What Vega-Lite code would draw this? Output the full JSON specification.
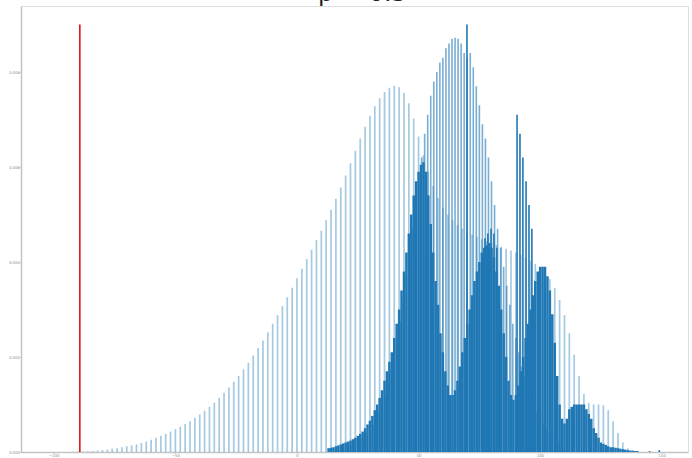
{
  "$schema": "https://vega.github.io/schema/vega-lite/v6.json",
  "width": 667,
  "height": 446,
  "autosize": "none",
  "padding": {"left": 21, "top": 6, "right": 4, "bottom": 6},
  "background": "white",
  "config": {
    "view": {"stroke": "#dddddd", "strokeWidth": 1},
    "axis": {"grid": false, "domainColor": "#c4c4c4", "domainWidth": 1.5, "tickColor": "#999999", "tickSize": 1, "labelFontSize": 3.8, "labelColor": "#888888", "labelFont": "DejaVu Sans", "labelPadding": 0.5}
  },
  "title": {"text": "p = 0.5", "fontSize": 24, "font": "DejaVu Sans", "fontWeight": "normal", "color": "#222222", "anchor": "middle", "offset": 0, "baseline": "alphabetic", "dy": 19, "dx": 8},
  "datasets": {
    "a": [
      {"x":-92,"y":0.000005},{"x":-90,"y":0.000008},{"x":-88,"y":0.00001},{"x":-86,"y":0.000015},
      {"x":-84,"y":0.00002},{"x":-82,"y":0.00003},{"x":-80,"y":0.00004},{"x":-78,"y":0.00005},{"x":-76,"y":0.00007},{"x":-74,"y":0.00008},{"x":-72,"y":0.0001},{"x":-70,"y":0.00012},{"x":-68,"y":0.00014},{"x":-66,"y":0.00016},{"x":-64,"y":0.00019},{"x":-62,"y":0.00022},{"x":-60,"y":0.00026},{"x":-58,"y":0.0003},{"x":-56,"y":0.00034},{"x":-54,"y":0.00038},{"x":-52,"y":0.00043},{"x":-50,"y":0.00048},{"x":-48,"y":0.00053},{"x":-46,"y":0.00059},{"x":-44,"y":0.00065},{"x":-42,"y":0.00072},{"x":-40,"y":0.00079},{"x":-38,"y":0.00087},{"x":-36,"y":0.00095},{"x":-34,"y":0.00104},{"x":-32,"y":0.00114},{"x":-30,"y":0.00125},{"x":-28,"y":0.00136},{"x":-26,"y":0.00148},{"x":-24,"y":0.0016},{"x":-22,"y":0.00174},{"x":-20,"y":0.00188},{"x":-18,"y":0.00203},{"x":-16,"y":0.00219},{"x":-14,"y":0.00235},{"x":-12,"y":0.00252},{"x":-10,"y":0.0027},{"x":-8,"y":0.00288},{"x":-6,"y":0.00307},{"x":-4,"y":0.00326},{"x":-2,"y":0.00346},{"x":0,"y":0.00366},{"x":2,"y":0.00386},{"x":4,"y":0.00406},{"x":6,"y":0.00426},{"x":8,"y":0.00446},{"x":10,"y":0.00466},{"x":12,"y":0.00488},{"x":14,"y":0.0051},{"x":16,"y":0.00533},{"x":18,"y":0.00557},{"x":20,"y":0.00582},{"x":22,"y":0.00608},{"x":24,"y":0.00634},{"x":26,"y":0.0066},{"x":28,"y":0.00685},{"x":30,"y":0.00708},{"x":32,"y":0.00728},{"x":34,"y":0.00745},{"x":36,"y":0.00758},{"x":38,"y":0.00767},{"x":40,"y":0.00771},{"x":42,"y":0.00768},{"x":44,"y":0.00756},{"x":46,"y":0.00734},{"x":48,"y":0.00702},{"x":50,"y":0.00664},{"x":52,"y":0.00625},{"x":54,"y":0.0059},{"x":56,"y":0.0056},{"x":58,"y":0.00535},{"x":60,"y":0.00515},{"x":62,"y":0.005},{"x":64,"y":0.00488},{"x":66,"y":0.00478},{"x":68,"y":0.0047},{"x":70,"y":0.00464},{"x":72,"y":0.00458},{"x":74,"y":0.00453},{"x":76,"y":0.00448},{"x":78,"y":0.00444},{"x":80,"y":0.0044},{"x":82,"y":0.00436},{"x":84,"y":0.00432},{"x":86,"y":0.00428},{"x":88,"y":0.00424},{"x":90,"y":0.0042},{"x":92,"y":0.00415},{"x":94,"y":0.0041},{"x":96,"y":0.00403},{"x":98,"y":0.00396},{"x":100,"y":0.00388},{"x":102,"y":0.00378},{"x":104,"y":0.00364},{"x":106,"y":0.00345},{"x":108,"y":0.0032},{"x":110,"y":0.00288},{"x":112,"y":0.0025},{"x":114,"y":0.00205},{"x":116,"y":0.0016},{"x":118,"y":0.00122},{"x":120,"y":0.00103},{"x":122,"y":0.001},{"x":124,"y":0.001},{"x":126,"y":0.00098},{"x":128,"y":0.00088},{"x":130,"y":0.00065},{"x":132,"y":0.0004},{"x":134,"y":0.0002},{"x":136,"y":0.00008}
    ],
    "b": [
      {"x":20,"y":0.0001},{"x":21.25,"y":0.00012},{"x":22.5,"y":0.00015},{"x":23.75,"y":0.00018},{"x":25,"y":0.00022},{"x":26.25,"y":0.00027},{"x":27.5,"y":0.00033},{"x":28.75,"y":0.0004},{"x":30,"y":0.00048},{"x":31.25,"y":0.00058},{"x":32.5,"y":0.0007},{"x":33.75,"y":0.00084},{"x":35,"y":0.001},{"x":36.25,"y":0.0012},{"x":37.5,"y":0.00143},{"x":38.75,"y":0.0017},{"x":40,"y":0.002},{"x":41.25,"y":0.00235},{"x":42.5,"y":0.00275},{"x":43.75,"y":0.0032},{"x":45,"y":0.0037},{"x":46.25,"y":0.0042},{"x":47.5,"y":0.0047},{"x":48.75,"y":0.0052},{"x":50,"y":0.0057},{"x":51.25,"y":0.0062},{"x":52.5,"y":0.0067},{"x":53.75,"y":0.0071},{"x":55,"y":0.0075},{"x":56.25,"y":0.0078},{"x":57.5,"y":0.008},{"x":58.75,"y":0.0082},{"x":60,"y":0.0083},{"x":61.25,"y":0.0085},{"x":62.5,"y":0.0086},{"x":63.75,"y":0.0087},{"x":65,"y":0.00872},{"x":66.25,"y":0.0087},{"x":67.5,"y":0.0086},{"x":68.75,"y":0.0084},{"x":70,"y":0.0083},{"x":71.25,"y":0.0084},{"x":72.5,"y":0.0081},{"x":73.75,"y":0.0077},{"x":75,"y":0.0073},{"x":76.25,"y":0.0069},{"x":77.5,"y":0.0066},{"x":78.75,"y":0.0062},{"x":80,"y":0.0057},{"x":81.25,"y":0.0052},{"x":82.5,"y":0.0047},{"x":83.75,"y":0.0043},{"x":85,"y":0.0039},{"x":86.25,"y":0.0035},{"x":87.5,"y":0.0031},{"x":88.75,"y":0.0027},{"x":90,"y":0.0024},{"x":91.25,"y":0.0021},{"x":92.5,"y":0.0018},{"x":93.75,"y":0.0016},{"x":95,"y":0.0014},{"x":96.25,"y":0.0012},{"x":97.5,"y":0.001},{"x":98.75,"y":0.00085},{"x":100,"y":0.0007},{"x":101.25,"y":0.00058},{"x":102.5,"y":0.00048},{"x":103.75,"y":0.0004},{"x":105,"y":0.00032},{"x":106.25,"y":0.00025},{"x":107.5,"y":0.0002},{"x":108.75,"y":0.00015},{"x":110,"y":0.0001}
    ],
    "c": [
      {"x":13,"y":0.00008},{"x":14,"y":0.00009},{"x":15,"y":0.0001},{"x":16,"y":0.00012},{"x":17,"y":0.00014},{"x":18,"y":0.00016},{"x":19,"y":0.00018},{"x":20,"y":0.0002},{"x":21,"y":0.00022},{"x":22,"y":0.00024},{"x":23,"y":0.00027},{"x":24,"y":0.0003},{"x":25,"y":0.00034},{"x":26,"y":0.00038},{"x":27,"y":0.00043},{"x":28,"y":0.0005},{"x":29,"y":0.00058},{"x":30,"y":0.00066},{"x":31,"y":0.00076},{"x":32,"y":0.00088},{"x":33,"y":0.001},{"x":34,"y":0.00114},{"x":35,"y":0.0013},{"x":36,"y":0.0015},{"x":37,"y":0.0017},{"x":38,"y":0.0019},{"x":39,"y":0.0021},{"x":40,"y":0.0024},{"x":41,"y":0.0027},{"x":42,"y":0.003},{"x":43,"y":0.0034},{"x":44,"y":0.0038},{"x":45,"y":0.0042},{"x":46,"y":0.0046},{"x":47,"y":0.005},{"x":48,"y":0.0054},{"x":49,"y":0.0057},{"x":50,"y":0.0059},{"x":51,"y":0.00605},{"x":52,"y":0.0061},{"x":53,"y":0.0059},{"x":54,"y":0.0054},{"x":55,"y":0.0048},{"x":56,"y":0.0042},{"x":57,"y":0.0036},{"x":58,"y":0.0031},{"x":59,"y":0.0025},{"x":60,"y":0.0021},{"x":61,"y":0.0017},{"x":62,"y":0.0014},{"x":63,"y":0.0012},{"x":64,"y":0.0012},{"x":65,"y":0.0013},{"x":66,"y":0.0015},{"x":67,"y":0.0018},{"x":68,"y":0.0021},{"x":69,"y":0.0024},{"x":70,"y":0.0027},{"x":71,"y":0.003},{"x":72,"y":0.0033},{"x":73,"y":0.0036},{"x":74,"y":0.0038},{"x":75,"y":0.004},{"x":76,"y":0.0042},{"x":77,"y":0.0043},{"x":78,"y":0.00435},{"x":79,"y":0.0044},{"x":80,"y":0.0043},{"x":81,"y":0.0041},{"x":82,"y":0.0038},{"x":83,"y":0.0035},{"x":84,"y":0.003},{"x":85,"y":0.0025},{"x":86,"y":0.002},{"x":87,"y":0.0015},{"x":88,"y":0.0012},{"x":89,"y":0.0011},{"x":90,"y":0.0012},{"x":91,"y":0.0014},{"x":92,"y":0.0017},{"x":93,"y":0.002},{"x":94,"y":0.0024},{"x":95,"y":0.0027},{"x":96,"y":0.003},{"x":97,"y":0.0033},{"x":98,"y":0.0036},{"x":99,"y":0.0038},{"x":100,"y":0.0039},{"x":101,"y":0.0039},{"x":102,"y":0.0039},{"x":103,"y":0.0037},{"x":104,"y":0.0034},{"x":105,"y":0.0029},{"x":106,"y":0.0023},{"x":107,"y":0.0016},{"x":108,"y":0.001},{"x":109,"y":0.0007},{"x":110,"y":0.0006},{"x":111,"y":0.0007},{"x":112,"y":0.0009},{"x":113,"y":0.00095},{"x":114,"y":0.001},{"x":115,"y":0.001},{"x":116,"y":0.001},{"x":117,"y":0.001},{"x":118,"y":0.001},{"x":119,"y":0.0009},{"x":120,"y":0.0008},{"x":121,"y":0.0007},{"x":122,"y":0.0005},{"x":123,"y":0.0004},{"x":124,"y":0.0003},{"x":125,"y":0.0002},{"x":126,"y":0.00017},{"x":127,"y":0.00015},{"x":128,"y":0.00012},{"x":129,"y":0.0001},{"x":130,"y":0.0001},{"x":131,"y":0.00009},{"x":132,"y":0.00008},{"x":133,"y":0.00007},{"x":134,"y":0.00006},{"x":135,"y":0.00005},{"x":136,"y":0.00004},{"x":137,"y":0.00003},{"x":138,"y":0.00003},{"x":139,"y":0.00002},{"x":140,"y":0.00002}
    ],
    "d": [
      {"x":69.9,"y":0.009},{"x":77.3,"y":0.0045},{"x":78.5,"y":0.0046},{"x":79.8,"y":0.0047},{"x":81,"y":0.0046},{"x":82.2,"y":0.0043},{"x":90.5,"y":0.0071},{"x":91.7,"y":0.0067},{"x":92.9,"y":0.0062},{"x":94.2,"y":0.0057},{"x":95.4,"y":0.0052},{"x":96.6,"y":0.0047},{"x":145,"y":0.00002},{"x":149,"y":0.00004}
    ],
    "red": [{"x":-89.3,"y":0.009}]
  },
  "encoding": {
    "x": {"field": "x", "type": "quantitative", "scale": {"domain": [-113.5, 160.8], "nice": false, "zero": false}, "axis": {"values": [-100, -50, 0, 50, 100, 150], "title": null, "format": "d"}},
    "y": {"field": "y", "type": "quantitative", "scale": {"domain": [0, 0.00939], "nice": false}, "axis": {"values": [0, 0.002, 0.004, 0.006, 0.008], "format": ".3f", "title": null}},
    "y2": {"datum": 0}
  },
  "layer": [
    {"data": {"name": "a"}, "mark": {"type": "rule", "color": "#1f77b4", "opacity": 0.4, "strokeWidth": 1.7}},
    {"data": {"name": "b"}, "mark": {"type": "rule", "color": "#1f77b4", "opacity": 0.6, "strokeWidth": 1.6}},
    {"data": {"name": "c"}, "mark": {"type": "rule", "color": "#1f77b4", "opacity": 1, "strokeWidth": 2.5}},
    {"data": {"name": "d"}, "mark": {"type": "rule", "color": "#1f77b4", "opacity": 1, "strokeWidth": 1.6}},
    {"data": {"name": "red"}, "mark": {"type": "rule", "color": "#e00000", "strokeWidth": 1.5}}
  ]
}
